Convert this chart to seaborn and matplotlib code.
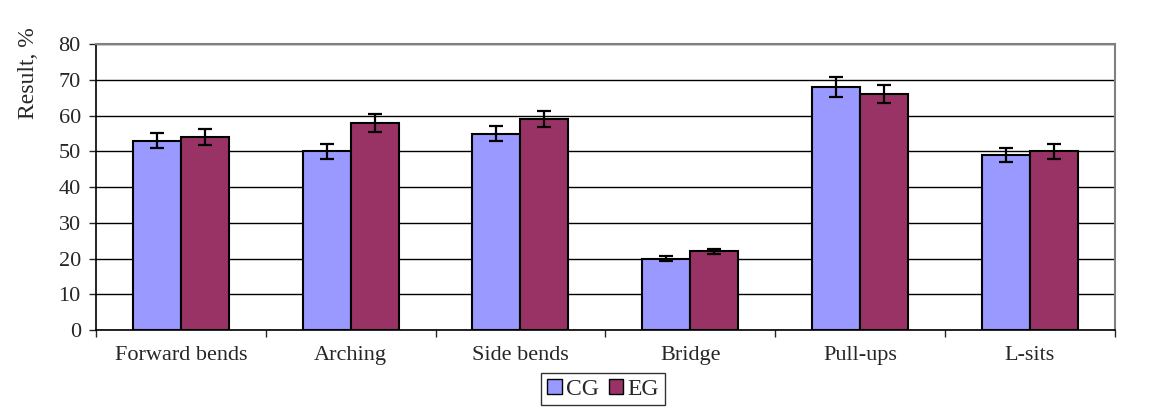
import numpy as np
import pandas as pd
import matplotlib
matplotlib.use("Agg")
import matplotlib.pyplot as plt
import seaborn as sns
from matplotlib.patches import Patch

categories = ["Forward bends", "Arching", "Side bends", "Bridge", "Pull-ups", "L-sits"]
cg = [53, 50, 55, 20, 68, 49]
eg = [54, 58, 59, 22, 66, 50]
cg_err = [2.1, 2.0, 2.1, 0.8, 2.8, 2.0]
eg_err = [2.2, 2.5, 2.3, 0.8, 2.5, 2.0]
groups = ["CG", "EG"]
colors = {"CG": "#9999FF", "EG": "#993366"}

sns.set_style("white")
plt.rcParams['font.family'] = ['Liberation Serif', 'DejaVu Serif']

df = pd.DataFrame({
    "cat": categories * 2,
    "group": ["CG"] * 6 + ["EG"] * 6,
    "val": cg + eg,
    "err": cg_err + eg_err,
})

fig = plt.figure(figsize=(11.6, 4.13), dpi=100)
ax = fig.add_axes([0.0828, 0.201, 0.878, 0.692])
sns.barplot(data=df, x="cat", y="val", hue="group", palette=colors,
            width=0.565, edgecolor="black", linewidth=1.5, saturation=1,
            errorbar=None, legend=False, ax=ax, zorder=3)

# error bars at bar centres
for container, g in zip(ax.containers, groups):
    sub = df[df.group == g]
    xs = [p.get_x() + p.get_width() / 2 for p in container.patches]
    ax.errorbar(xs, sub["val"], yerr=sub["err"], fmt="none", ecolor="black",
                elinewidth=1.6, capsize=5, capthick=1.6, zorder=4)

ax.set_ylim(0, 80)
ax.set_xlim(-0.5, 5.5)
ax.set_yticks(range(0, 81, 10))
ax.yaxis.grid(True, color="black", linewidth=1)
ax.set_axisbelow(True)
ax.set_xlabel("")
ax.set_ylabel("Result, %", fontsize=17)
ax.yaxis.set_label_coords(-0.056, 0.9)
ax.tick_params(axis="y", left=True, direction="out", length=5, width=1, labelsize=16, pad=6)
ax.tick_params(axis="x", bottom=False, labelsize=16, pad=8)
# category boundary ticks
ax.set_xticks(np.arange(-0.5, 6.0, 1.0), minor=True)
ax.tick_params(axis="x", which="minor", bottom=True, direction="out", length=5, width=1)

for s in ["left", "bottom"]:
    ax.spines[s].set_color("black")
    ax.spines[s].set_linewidth(1.2)
for s in ["top", "right"]:
    ax.spines[s].set_color("#808080")
    ax.spines[s].set_linewidth(1.5)

handles = [Patch(facecolor=colors[g], edgecolor="black", label=g) for g in groups]
fig.legend(handles=handles, loc="center", bbox_to_anchor=(0.52, 0.058), ncol=2,
           frameon=True, fancybox=False, edgecolor="black", fontsize=17,
           handlelength=0.6, handleheight=0.6, handletextpad=0.2, columnspacing=0.4,
           borderpad=0.25)

fig.savefig("out.png", dpi=100)
